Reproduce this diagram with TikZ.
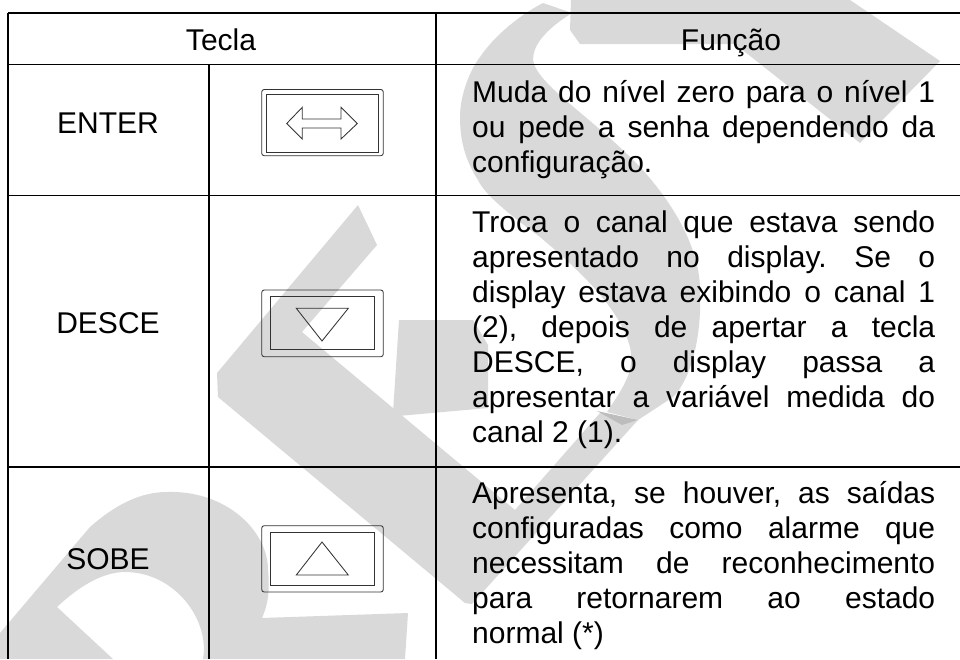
\documentclass[tikz,border=0pt]{standalone}
\usepackage{fontspec}
\setmainfont{Liberation Sans}
\definecolor{wm}{HTML}{D9D9D9}
\definecolor{wmd}{HTML}{BDBDBD}
\frenchspacing
\newcommand\jl[1]{\hbox to 463pt{\spaceskip=8.3pt plus 1fil\relax #1}}
\newcommand\lastln[1]{\hbox{#1}}
\tikzset{
  mark band/.style={fill=wm,draw=none},
  rule/.style={line width=1.9pt,black},
  keyline/.style={line width=0.85pt,black!80},
  label/.style={font=\fontsize{30}{35}\selectfont,inner sep=0pt,anchor=base},
  para/.style={font=\fontsize{30}{35}\selectfont,inner sep=0pt,anchor=base west}
}
\begin{document}
\begin{tikzpicture}[x=1pt,y=-1pt]
\useasboundingbox (0,0) rectangle (960,659);
\fill[white] (0,0) rectangle (960,659);
% watermark
\fill[mark band] (571,0) -- (570,30) -- (580,44) -- (735,44) -- (860,143) -- (940,61) -- (850,0) -- cycle;
\fill[mark band] (543,3) -- (572,13) .. controls (545,30) and (533,45) .. (533,60)
  .. controls (537,85) and (590,115) .. (640,167)
  .. controls (675,205) and (700,250) .. (700,290)
  .. controls (702,340) and (690,380) .. (673,397)
  -- (638,420) -- (607,412)
  .. controls (625,385) and (635,370) .. (630,347)
  .. controls (620,310) and (585,275) .. (540,237)
  .. controls (510,215) and (485,195) .. (478,180)
  .. controls (465,160) and (460,140) .. (460,117)
  .. controls (460,95) and (470,70) .. (480,57)
  .. controls (495,35) and (520,15) .. (543,3) -- cycle;
\fill[mark band] (399,320) -- (473,320) -- (488,345) -- (488,408) -- (398,416) -- (393,413) -- cycle;
\fill[mark band] (358,205) -- (377,245) -- (302,332) -- (515,510) -- (600,413) -- (638,420)
  -- (472,604) -- (465,603) -- (218,397) -- (217,373) -- cycle;
\fill[wmd] (597,411) -- (638,420) -- (622,425) -- cycle;
\fill[mark band] (0,633) -- (90,527) .. controls (115,505) and (140,492) .. (167,492)
  .. controls (225,490) and (268,530) .. (268,570)
  .. controls (270,590) and (268,605) .. (262,618)
  -- (408,613) -- (405,659) -- (203,659)
  .. controls (210,620) and (175,572) .. (125,572)
  .. controls (100,572) and (75,590) .. (57,607)
  -- (113,659) -- (0,659) -- cycle;
% table
\coordinate (tl) at (8,13);
\draw[rule] (tl) -- (960,13);
\draw[rule] (8,64.5) -- (960,64.5);
\draw[rule] (8,195.5) -- (960,195.5);
\draw[rule] (8,466.7) -- (960,466.7);
\draw[rule] (tl) -- (8,659);
\draw[rule] (436,13) -- (436,659);
\draw[rule] (208.8,64.5) -- (208.8,659);
% labels
\node[label] (tecla) at (221,50) {Tecla};
\node[label] (funcao) at (731,50) {Função};
\node[label] (enter) at (108,133) {ENTER};
\node[label] (desce) at (108,333) {DESCE};
\node[label] (sobe) at (108,569) {SOBE};
% text
\node[para] (f1) at (472,102) {\vtop{\baselineskip=35pt
 \jl{Muda do nível zero para o nível 1}
 \jl{ou pede a senha dependendo da}
 \lastln{configuração.}}};
\node[para] (f2) at (472,232) {\vtop{\baselineskip=35pt
 \jl{Troca o canal que estava sendo}
 \jl{apresentado no display. Se o}
 \jl{display estava exibindo o canal 1}
 \jl{(2), depois de apertar a tecla}
 \jl{DESCE, o display passa a}
 \jl{apresentar a variável medida do}
 \lastln{canal 2 (1).}}};
\node[para] (f3) at (472,503) {\vtop{\baselineskip=35pt
 \jl{Apresenta, se houver, as saídas}
 \jl{configuradas como alarme que}
 \jl{necessitam de reconhecimento}
 \jl{para retornarem ao estado}
 \lastln{normal (*)}}};
% key ENTER
\draw[keyline,rounded corners=2.5pt] (261.7,89.5) rectangle (383.3,155.7);
\draw[keyline] (266,94.3) rectangle (378.3,152);
\draw[keyline,line join=miter] (286.7,123.5) -- (302.3,107.3) -- (302.3,119) -- (341,119) -- (341,107.3) -- (357.3,123.5) -- (341,139) -- (341,128) -- (302.3,128) -- (302.3,139) -- cycle;
% key DESCE
\draw[keyline,rounded corners=2.5pt] (261.7,290) rectangle (383.3,356.7);
\draw[keyline] (270.3,296.3) rectangle (374.3,349.7);
\draw[keyline] (296.3,308.3) -- (348.3,308.3) -- (322,341) -- cycle;
% key SOBE
\draw[keyline,rounded corners=2.5pt] (261.7,525.7) rectangle (383.3,592);
\draw[keyline] (270.3,532) rectangle (374.3,585.3);
\draw[keyline] (296.3,575) -- (348.3,575) -- (322,542) -- cycle;
\end{tikzpicture}
\end{document}
